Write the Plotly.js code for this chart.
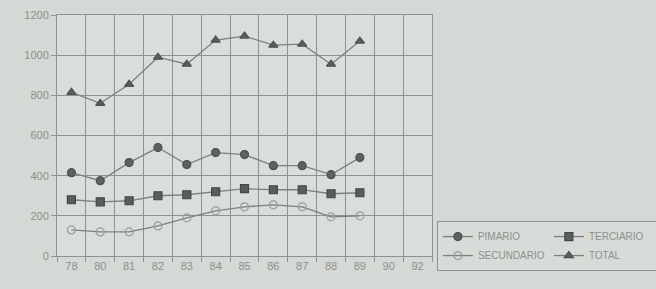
<!DOCTYPE html>
<html><head><meta charset="utf-8">
<script src="https://cdn.plot.ly/plotly-3.0.1.min.js"></script>
<style>html,body{margin:0;padding:0;background:#d5d9d5;}</style>
</head><body>
<div id="chart" style="width:656px;height:289px;"></div>
<script>
const years = ["78","80","81","82","83","84","85","86","87","88","89","90","92"];
const pimario    = [415, 375, 465, 540, 455, 515, 505, 450, 450, 405, 490];
const terciario  = [280, 270, 275, 300, 305, 320, 335, 330, 330, 310, 315];
const secundario = [130, 120, 120, 150, 190, 225, 245, 255, 245, 195, 200];
const total      = [815, 760, 855, 990, 955, 1075, 1095, 1050, 1055, 955, 1070];

const lineCol = '#7d807c';
function tr(name, ys, symbol, mcol, lcol){
  return {x: years.slice(0, ys.length), y: ys, name: name, type:'scatter', mode:'lines+markers',
    line:{color:lineCol, width:1.3},
    marker:{symbol:symbol, size:8, color:mcol, line:{color:lcol, width:1.2}}};
}
const data = [
  tr('PIMARIO', pimario, 'circle', '#5e615d', '#4e514d'),
  tr('TERCIARIO', terciario, 'square', '#5a5d59', '#444744'),
  tr('SECUNDARIO', secundario, 'circle-open', '#9a9d99', '#9a9d99'),
  tr('TOTAL', total, 'triangle-up', '#5a5e62', '#4e514d')
];
const layout = {
  width:656, height:289,
  margin:{l:57, r:224, t:15, b:33, autoexpand:false},
  paper_bgcolor:'#d5d9d5', plot_bgcolor:'#dadeda',
  font:{family:'Liberation Sans, Arial, sans-serif', color:'#8c908b', size:11},
  showlegend:true,
  xaxis:{type:'category', categoryorder:'array', categoryarray:years, range:[-0.5,12.5],
    tickson:'boundaries', showgrid:true, gridcolor:'#8f928e', gridwidth:1,
    ticks:'outside', ticklen:5, tickcolor:'#8f928e',
    showline:true, linecolor:'#8f928e', linewidth:1, mirror:true,
    tickfont:{size:11, color:'#8c908b'}, fixedrange:true},
  yaxis:{range:[0,1200], dtick:200, showgrid:true, gridcolor:'#8f928e', gridwidth:1,
    ticks:'outside', ticklen:5, tickcolor:'#8f928e', zeroline:false,
    showline:true, linecolor:'#8f928e', linewidth:1, mirror:true,
    tickfont:{size:11, color:'#8c908b'}, fixedrange:true},
  legend:{orientation:'h', x:1.013, xanchor:'left', y:0.145, yanchor:'top',
    entrywidth:66, entrywidthmode:'pixels',
    bordercolor:'#8f928e', borderwidth:1, bgcolor:'#d8dcd8',
    font:{size:10, color:'#8c908b'}, itemwidth:30, tracegroupgap:0}
};
Plotly.newPlot('chart', data, layout, {displayModeBar:false, staticPlot:true});
</script>
</body></html>
